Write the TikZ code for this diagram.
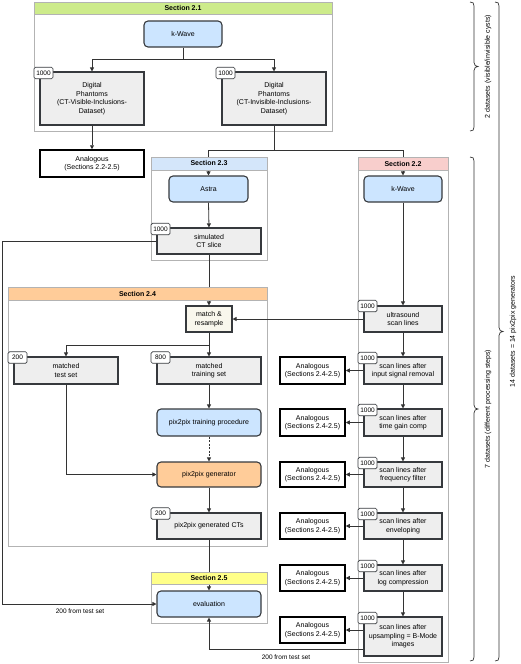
\documentclass[tikz,border=0pt]{standalone}
\usepackage{fontspec}
\setmainfont{Liberation Sans}
\usetikzlibrary{arrows.meta}
\definecolor{framegray}{HTML}{B3B3B3}
\definecolor{boxline}{HTML}{36393D}
\definecolor{lineclr}{HTML}{333333}
\definecolor{boxgray}{HTML}{EEEEEE}
\definecolor{lblue}{HTML}{CCE5FF}
\definecolor{hblue}{HTML}{D4E6FA}
\definecolor{hgreen}{HTML}{CDEB8B}
\definecolor{hpink}{HTML}{F8CECC}
\definecolor{horange}{HTML}{FFCC99}
\definecolor{hyellow}{HTML}{FFFF88}
\definecolor{cream}{HTML}{F9F7ED}
\pgfdeclarelayer{background}
\pgfdeclarelayer{conn}
\pgfsetlayers{background,conn,main}
\newcommand{\mybrace}[3]{% #1 = x of ends, #2 = top y, #3 = bottom y
  \pgfmathsetmacro{\bxl}{#1+4}%
  \pgfmathsetmacro{\bxt}{#1+8}%
  \pgfmathsetmacro{\bym}{(#2+#3)/2}%
  \draw[brc] (#1,#2) .. controls (#1+3,#2) and (\bxl,#2+1) .. (\bxl,#2+4)
    -- (\bxl,\bym-4) .. controls (\bxl,\bym-1) and (\bxl+2,\bym) .. (\bxt,\bym)
    .. controls (\bxl+2,\bym) and (\bxl,\bym+1) .. (\bxl,\bym+4)
    -- (\bxl,#3-4) .. controls (\bxl,#3-1) and (#1+3,#3) .. (#1,#3);%
}
\begin{document}
\begin{tikzpicture}[x=1pt,y=-1pt,
  font=\fontsize{7}{8.6}\selectfont,
  sz/.style 2 args={minimum width=#1, minimum height=#2},
  frame/.style={draw=framegray, line width=0.8pt},
  hdr/.style={draw=framegray, line width=0.8pt, inner sep=0pt, font=\fontsize{7}{8.6}\selectfont\bfseries},
  gbox/.style={draw=boxline, line width=1.1pt, fill=boxgray, align=center, inner sep=1pt},
  rbox/.style={gbox, rounded corners=4pt, fill=lblue},
  abox/.style={draw=black, line width=1.5pt, fill=white, align=center, inner sep=0.5pt},
  badge/.style={draw=boxline, line width=0.7pt, fill=white, rounded corners=1.5pt, inner sep=0.5pt,
     font=\fontsize{6.5}{7}\selectfont, minimum width=19pt, minimum height=11.5pt},
  arr/.style={draw=lineclr, line width=0.8pt, -{Triangle[length=4pt,width=4pt]}},
  ln/.style={draw=lineclr, line width=0.8pt},
  brc/.style={draw=lineclr, line width=0.7pt},
  side/.style={rotate=90, font=\fontsize{7}{8.6}\selectfont}
]
\useasboundingbox (0,0) rectangle (520,664);
\begin{pgfonlayer}{background}
  \draw[frame] (34,2) rectangle (332,131);
  \draw[frame] (151,157) rectangle (267,260);
  \draw[frame] (358,157) rectangle (448,662);
  \draw[frame] (8,287) rectangle (267,546);
  \draw[frame] (151,572) rectangle (267,623);
\end{pgfonlayer}

% headers
\node[hdr, sz={298pt}{12pt}, fill=hgreen] (h21) at (183,8) {Section 2.1};
\node[hdr, sz={116pt}{13pt}, fill=hblue] (h23) at (209,163.5) {Section 2.3};
\node[hdr, sz={90pt}{13pt}, fill=hpink] (h22) at (403,163.5) {Section 2.2};
\node[hdr, sz={259pt}{13pt}, fill=horange] (h24) at (137.5,293.5) {Section 2.4};
\node[hdr, sz={116pt}{12pt}, fill=hyellow] (h25) at (209,578) {Section 2.5};

% section 2.1
\node[rbox, sz={78pt}{26pt}] (kw1) at (183,34) {k-Wave};
\node[gbox, sz={104pt}{53pt}] (dp1) at (92,98.5) {Digital\\Phantoms\\(CT-Visible-Inclusions-\\Dataset)};
\node[gbox, sz={104pt}{53pt}] (dp2) at (274,98.5) {Digital\\Phantoms\\(CT-Invisible-Inclusions-\\Dataset)};
\node[badge] (bdp1) at (43.5,73) {1000};
\node[badge] (bdp2) at (225.5,73) {1000};
\node[abox, sz={104pt}{27pt}] (ana0) at (92,163.5) {Analogous\\(Sections 2.2-2.5)};

% section 2.3
\node[rbox, sz={79pt}{26pt}] (astra) at (208.5,189) {Astra};
\node[gbox, sz={104pt}{26pt}] (ct) at (209,241) {simulated\\CT slice};
\node[badge] (bct) at (160.5,229) {1000};

% section 2.2
\node[rbox, sz={78pt}{26pt}] (kw2) at (403,189) {k-Wave};
\node[gbox, sz={78pt}{26pt}] (us) at (403,319) {ultrasound\\scan lines};
\node[gbox, sz={78pt}{27pt}] (s1) at (403,370.5) {scan lines after\\input signal removal};
\node[gbox, sz={78pt}{27pt}] (s2) at (403,422.5) {scan lines after\\time gain comp};
\node[gbox, sz={78pt}{25pt}] (s3) at (403,474.5) {scan lines after\\frequency filter};
\node[gbox, sz={78pt}{26pt}] (s4) at (403,526) {scan lines after\\enveloping};
\node[gbox, sz={78pt}{26pt}] (s5) at (403,578) {scan lines after\\log compression};
\node[gbox, sz={78pt}{39pt}] (s6) at (403,636.5) {scan lines after\\upsampling = B-Mode\\images};
\foreach \n/\y in {us/306,s1/358,s2/410,s3/463,s4/514,s5/566,s6/618}
  \node[badge] (b\n) at (367.5,\y) {1000};
\node[abox, sz={65pt}{27pt}] (a1) at (312.5,370.5) {Analogous\\(Sections 2.4-2.5)};
\node[abox, sz={65pt}{27pt}] (a2) at (312.5,422.5) {Analogous\\(Sections 2.4-2.5)};
\node[abox, sz={65pt}{25pt}] (a3) at (312.5,474.5) {Analogous\\(Sections 2.4-2.5)};
\node[abox, sz={65pt}{26pt}] (a4) at (312.5,526) {Analogous\\(Sections 2.4-2.5)};
\node[abox, sz={65pt}{26pt}] (a5) at (312.5,578) {Analogous\\(Sections 2.4-2.5)};
\node[abox, sz={65pt}{26pt}] (a6) at (312.5,630) {Analogous\\(Sections 2.4-2.5)};

% section 2.4
\node[gbox, sz={46pt}{26pt}, fill=cream] (match) at (209,319) {match \&\\resample};
\node[gbox, sz={104pt}{27pt}] (test) at (66,370.5) {matched\\test set};
\node[badge] (btest) at (17.5,357.5) {200};
\node[gbox, sz={104pt}{27pt}] (train) at (209,370.5) {matched\\training set};
\node[badge] (btrain) at (160.5,357.5) {800};
\node[rbox, sz={104pt}{27pt}] (proc) at (209,422.5) {pix2pix training procedure};
\node[rbox, sz={104pt}{25pt}, fill=horange] (gen) at (209,474.5) {pix2pix generator};
\node[gbox, sz={104pt}{26pt}] (gcts) at (209,526) {pix2pix generated CTs};
\node[badge] (bgcts) at (160.5,513.5) {200};

% section 2.5
\node[rbox, sz={104pt}{26pt}] (eval) at (209,604) {evaluation};

% labels
\node (lab1) at (80,611) {\fontsize{6.5}{7}\selectfont 200 from test set};
\node (lab2) at (286,657) {\fontsize{6.5}{7}\selectfont 200 from test set};

\coordinate (leftx) at (2,0);
\coordinate (lowy) at (0,649);
\coordinate (y59) at (0,59);
\coordinate (y150) at (0,150);
\coordinate (y345) at (0,345);

\begin{pgfonlayer}{conn}
  \draw[ln] (kw1.south) -- (kw1.south |- y59);
  \draw[arr] (kw1.south |- y59) -| (dp1.north);
  \draw[arr] (kw1.south |- y59) -| (dp2.north);
  \draw[arr] (dp1.south) -- (ana0.north);
  \draw[ln] (dp2.south) -- (dp2.south |- y150);
  \draw[arr] (dp2.south |- y150) -| (astra.north);
  \draw[arr] (dp2.south |- y150) -| (kw2.north);
  \draw[arr] (astra.south) -- (ct.north);
  \draw[arr] (ct.south) -- (match.north);
  \draw[arr] (us.west) -- (match.east);
  \draw[ln] (match.south) -- (match.south |- y345);
  \draw[arr] (match.south |- y345) -| (test.north);
  \draw[arr] (match.south |- y345) -- (train.north);
  \draw[arr] (train.south) -- (proc.north);
  \draw[arr, dash pattern=on 2pt off 1.5pt] (proc.south) -- (gen.north);
  \draw[arr] (test.south) |- (gen.west);
  \draw[arr] (gen.south) -- (gcts.north);
  \draw[arr] (gcts.south) -- (eval.north);
  \draw[arr] (ct.west) -- (ct.west -| leftx) |- (eval.west);
  \draw[arr] (kw2.south) -- (us.north);
  \draw[arr] (us.south) -- (s1.north);
  \draw[arr] (s1.south) -- (s2.north);
  \draw[arr] (s2.south) -- (s3.north);
  \draw[arr] (s3.south) -- (s4.north);
  \draw[arr] (s4.south) -- (s5.north);
  \draw[arr] (s5.south) -- (s6.north);
  \draw[arr] (s1.west) -- (a1.east);
  \draw[arr] (s2.west) -- (a2.east);
  \draw[arr] (s3.west) -- (a3.east);
  \draw[arr] (s4.west) -- (a4.east);
  \draw[arr] (s5.west) -- (a5.east);
  \draw[arr] (a6.east -| s6.west) -- (a6.east);
  \draw[arr] (s6.west |- lowy) -| (eval.south);
\end{pgfonlayer}

% braces
\mybrace{470}{2}{131}
\mybrace{470}{157}{661}
\mybrace{495}{2}{661}
\node[side] (t1) at (488,66.5) {2 datasets (visible/invisible cysts)};
\node[side] (t2) at (488,409) {7 datasets (different processing steps)};
\node[side] (t3) at (513,331.5) {14 datasets = 14 pix2pix generators};
\end{tikzpicture}
\end{document}
